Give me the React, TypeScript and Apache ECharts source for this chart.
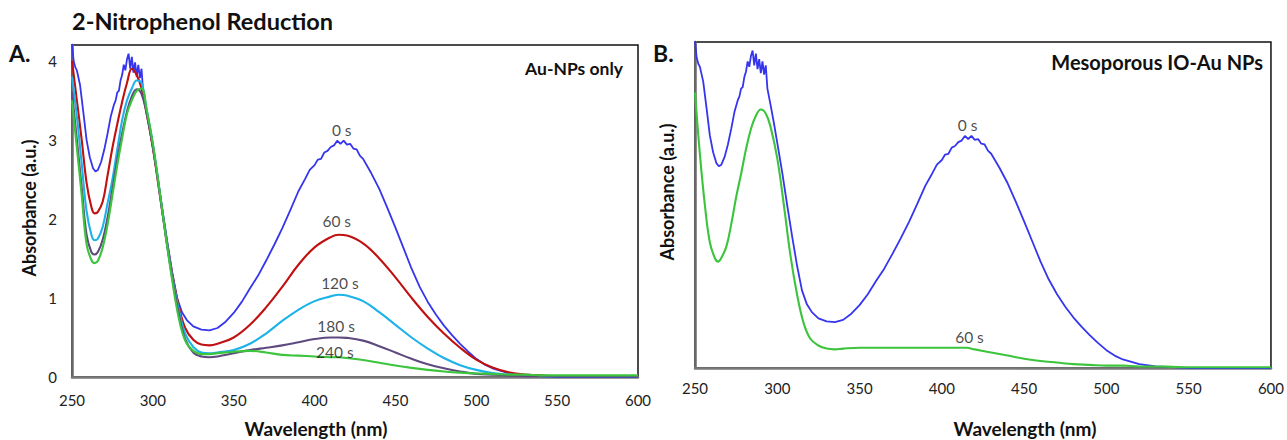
import React, { useEffect, useRef } from "react";
import * as echarts from "echarts";

// ---- data ----
const wlBlue = [250, 251, 252, 253, 255, 257, 259, 261, 263, 264.5, 266, 268, 270, 272, 274, 276, 277, 278, 279, 280, 281, 282, 283, 284, 285, 286, 287, 288, 289, 290, 291, 292, 293, 294, 296, 298, 300, 303, 306, 309, 312, 315, 318, 321, 325, 330, 335, 340, 345, 350, 355, 360, 365, 370, 375, 380, 385, 390, 394, 397, 400, 402, 404, 406, 408, 410, 412, 414, 416, 418, 420, 422, 424, 426, 428, 430, 435, 440, 445, 450, 455, 460, 465, 470, 475, 480, 485, 490, 495, 500, 505, 510, 520, 530, 540, 550, 575, 600];
const abs0s = [4.22, 4.0, 3.92, 3.88, 3.69, 3.35, 3.0, 2.78, 2.64, 2.6, 2.62, 2.72, 2.88, 3.08, 3.3, 3.45, 3.5, 3.6, 3.62, 3.75, 3.82, 3.95, 3.88, 4.02, 4.09, 3.9, 4.05, 3.85, 3.98, 3.8, 3.95, 3.78, 3.9, 3.6, 3.38, 3.15, 2.9, 2.52, 2.1, 1.7, 1.32, 1.0, 0.82, 0.72, 0.64, 0.6, 0.59, 0.62, 0.7, 0.81, 0.95, 1.12, 1.28, 1.47, 1.67, 1.88, 2.11, 2.35, 2.5, 2.62, 2.68, 2.75, 2.76, 2.84, 2.86, 2.91, 2.93, 2.99, 2.95, 2.99, 2.94, 2.95, 2.89, 2.88, 2.8, 2.76, 2.58, 2.38, 2.14, 1.89, 1.63, 1.37, 1.14, 0.95, 0.79, 0.65, 0.53, 0.42, 0.32, 0.23, 0.16, 0.11, 0.05, 0.02, 0.01, 0.0, 0.0, 0.0];

const wl = [250, 253, 256, 259, 262, 264, 266, 269, 272, 275, 278, 281, 284, 287, 290, 293, 296, 300, 304, 308, 312, 316, 320, 325, 330, 335, 340, 350, 360, 370, 380, 390, 400, 410, 415, 420, 430, 440, 450, 460, 470, 480, 490, 500, 510, 520, 530, 540, 550, 575, 600];
const abs60s = [4.0, 3.5, 3.0, 2.46, 2.15, 2.07, 2.09, 2.22, 2.55, 2.9, 3.2, 3.48, 3.72, 3.9, 3.82, 3.65, 3.35, 2.9, 2.35, 1.8, 1.3, 0.9, 0.62, 0.47, 0.41, 0.4, 0.42, 0.5, 0.66, 0.88, 1.14, 1.42, 1.64, 1.77, 1.8, 1.79, 1.69, 1.5, 1.26, 1.0, 0.76, 0.55, 0.37, 0.22, 0.12, 0.06, 0.03, 0.02, 0.01, 0.01, 0.01];
const abs120s = [3.8, 3.3, 2.7, 2.1, 1.8, 1.73, 1.75, 1.9, 2.2, 2.5, 2.88, 3.25, 3.5, 3.65, 3.75, 3.72, 3.4, 2.95, 2.38, 1.8, 1.28, 0.86, 0.55, 0.38, 0.31, 0.3, 0.31, 0.34, 0.42, 0.55, 0.71, 0.85, 0.96, 1.02, 1.04, 1.03, 0.96, 0.82, 0.66, 0.5, 0.36, 0.24, 0.15, 0.09, 0.05, 0.03, 0.02, 0.01, 0.01, 0.01, 0.01];
const abs180s = [3.6, 3.0, 2.4, 1.8, 1.58, 1.55, 1.58, 1.74, 2.02, 2.38, 2.75, 3.08, 3.36, 3.55, 3.64, 3.58, 3.35, 2.92, 2.36, 1.78, 1.25, 0.8, 0.48, 0.31, 0.26, 0.25, 0.26, 0.3, 0.34, 0.37, 0.4, 0.44, 0.48, 0.5, 0.5, 0.495, 0.46, 0.39, 0.31, 0.23, 0.16, 0.11, 0.07, 0.04, 0.03, 0.02, 0.01, 0.01, 0.01, 0.01, 0.01];
const abs240s = [3.5, 2.9, 2.3, 1.68, 1.48, 1.44, 1.47, 1.64, 1.93, 2.3, 2.68, 3.02, 3.33, 3.5, 3.62, 3.65, 3.4, 2.95, 2.38, 1.78, 1.22, 0.75, 0.46, 0.33, 0.29, 0.29, 0.3, 0.32, 0.33, 0.31, 0.28, 0.27, 0.26, 0.25, 0.25, 0.24, 0.215, 0.18, 0.145, 0.115, 0.09, 0.07, 0.055, 0.045, 0.04, 0.03, 0.03, 0.02, 0.02, 0.02, 0.02];
const absIO60s = [3.55, 2.75, 2.1, 1.62, 1.42, 1.37, 1.42, 1.56, 1.85, 2.2, 2.5, 2.82, 3.08, 3.25, 3.33, 3.28, 3.1, 2.7, 2.1, 1.45, 0.95, 0.58, 0.38, 0.29, 0.25, 0.24, 0.25, 0.26, 0.26, 0.26, 0.26, 0.26, 0.26, 0.26, 0.26, 0.24, 0.2, 0.16, 0.12, 0.09, 0.07, 0.05, 0.04, 0.03, 0.03, 0.02, 0.02, 0.015, 0.01, 0.01, 0.01];

const xTicks = [250, 300, 350, 400, 450, 500, 550, 600];
const yTicks = [0, 1, 2, 3, 4];

const labelsA = [
  { wl: 416.8, a: 3.13, text: "0 s" },
  { wl: 413.7, a: 1.97, text: "60 s" },
  { wl: 415.7, a: 1.19, text: "120 s" },
  { wl: 413.3, a: 0.64, text: "180 s" },
  { wl: 412.6, a: 0.32, text: "240 s" },
];
const labelsB = [
  { wl: 415.6, a: 3.13, text: "0 s" },
  { wl: 416.8, a: 0.4, text: "60 s" },
];

const C = {
  blue: "#3535ee",
  red: "#c01010",
  cyan: "#1cb2ea",
  purple: "#5e4a7e",
  green: "#3cc43c",
};

const FONT = "Lato";

function pairs(xs: number[], ys: number[]) {
  return xs.map((x, i) => [x, ys[i]]);
}

export default function App() {
  const ref = useRef<HTMLDivElement>(null);
  useEffect(() => {
    if (!ref.current) return;
    const chart = echarts.init(ref.current, undefined, { renderer: "svg" });

    const xAxisBase = (gridIndex: number, margin: number) => ({
      type: "value",
      gridIndex,
      min: xTicks[0],
      max: xTicks[xTicks.length - 1],
      interval: 50,
      axisTick: { show: false },
      splitLine: { show: false },
      axisLine: { show: true, onZero: false, lineStyle: { color: "#7a7a7a", width: 2.5 } },
      axisLabel: { margin, fontSize: 15, color: "#222", fontFamily: FONT },
    });
    const yAxisBase = (gridIndex: number, showLabels: boolean) => ({
      type: "value",
      gridIndex,
      min: 0,
      max: 4.2,
      interval: 1,
      axisTick: { show: false },
      splitLine: { show: false },
      axisLine: { show: true, onZero: false, lineStyle: { color: "#6a6a6a", width: 2.5 } },
      axisLabel: {
        show: showLabels,
        margin: 15,
        fontSize: 15,
        color: "#222",
        fontFamily: FONT,
        formatter: (v: number) => (yTicks.includes(v) ? String(v) : ""),
      },
    });

    const line = (name: string, data: number[][], color: string, idx: number, smooth: boolean | number, width = 2.1) => ({
      name,
      type: "line",
      xAxisIndex: idx,
      yAxisIndex: idx,
      data,
      showSymbol: false,
      symbol: "none",
      smooth,
      lineStyle: { color, width },
      clip: true,
    });

    const labelSeries = (idx: number, items: { wl: number; a: number; text: string }[]) => ({
      type: "scatter",
      xAxisIndex: idx,
      yAxisIndex: idx,
      symbolSize: 1,
      itemStyle: { color: "rgba(0,0,0,0)" },
      data: items.map((d) => [d.wl, d.a, d.text]),
      label: {
        show: true,
        position: "inside",
        formatter: (p: any) => p.data[2],
        fontSize: 15.5,
        color: "#1a1a1a",
        fontFamily: FONT,
      },
      z: 10,
    });

    chart.setOption({
      animation: false,
      backgroundColor: "#ffffff",
      grid: [
        { left: 72, top: 45, width: 566, height: 332, show: true, borderColor: "#111", borderWidth: 1.5, backgroundColor: "transparent" },
        { left: 695, top: 42, width: 577, height: 326, show: true, borderColor: "#111", borderWidth: 1.5, backgroundColor: "transparent" },
      ],
      xAxis: [xAxisBase(0, 15), xAxisBase(1, 12)],
      yAxis: [yAxisBase(0, true), yAxisBase(1, false)],
      series: [
        line("0 s", pairs(wlBlue, abs0s), C.blue, 0, false, 1.8),
        line("60 s", pairs(wl, abs60s), C.red, 0, 0.4),
        line("120 s", pairs(wl, abs120s), C.cyan, 0, 0.4),
        line("180 s", pairs(wl, abs180s), C.purple, 0, 0.4),
        line("240 s", pairs(wl, abs240s), C.green, 0, 0.4),
        labelSeries(0, labelsA),
        line("0 s B", pairs(wlBlue, abs0s), C.blue, 1, false, 1.8),
        line("60 s B", pairs(wl, absIO60s), C.green, 1, 0.4),
        labelSeries(1, labelsB),
      ],
      graphic: [
        { type: "text", x: 72, y: 21, style: { text: "2-Nitrophenol Reduction", font: `bold 23.5px ${FONT}`, fill: "#111", verticalAlign: "middle" } },
        { type: "text", x: 9, y: 53, style: { text: "A.", font: `bold 23px ${FONT}`, fill: "#111", verticalAlign: "middle" } },
        { type: "text", x: 653, y: 53, style: { text: "B.", font: `bold 23px ${FONT}`, fill: "#111", verticalAlign: "middle" } },
        { type: "text", x: 623, y: 68, style: { text: "Au-NPs only", font: `bold 17.5px ${FONT}`, fill: "#111", align: "right", verticalAlign: "middle" } },
        { type: "text", x: 1263, y: 62, style: { text: "Mesoporous IO-Au NPs", font: `bold 20px ${FONT}`, fill: "#111", align: "right", verticalAlign: "middle" } },
        { type: "text", x: 29, y: 208, rotation: Math.PI / 2, style: { text: "Absorbance (a.u.)", font: `bold 18px ${FONT}`, fill: "#111", align: "center", verticalAlign: "middle" } },
        { type: "text", x: 667, y: 192, rotation: Math.PI / 2, style: { text: "Absorbance (a.u.)", font: `bold 18px ${FONT}`, fill: "#111", align: "center", verticalAlign: "middle" } },
        { type: "text", x: 316, y: 428, style: { text: "Wavelength (nm)", font: `bold 19px ${FONT}`, fill: "#111", align: "center", verticalAlign: "middle" } },
        { type: "text", x: 1025, y: 428, style: { text: "Wavelength (nm)", font: `bold 19px ${FONT}`, fill: "#111", align: "center", verticalAlign: "middle" } },
      ],
    });
    return () => chart.dispose();
  }, []);
  return (
    <div
      ref={ref}
      style={{ position: "fixed", left: 0, top: 0, width: 1287, height: 440, background: "#fff" }}
    />
  );
}
